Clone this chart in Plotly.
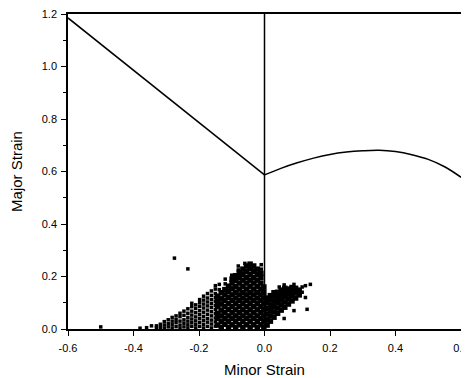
import plotly.graph_objects as go

# Forming limit curve: negative minor strain branch
flc_left_minor = [-0.6, 0.0]
flc_left_major = [1.185, 0.587]

# Forming limit curve: positive minor strain branch
flc_right_minor = [0.0, 0.05, 0.1, 0.15, 0.2, 0.25, 0.3, 0.35, 0.4, 0.45, 0.5, 0.55, 0.6]
flc_right_major = [0.587, 0.612, 0.633, 0.651, 0.665, 0.674, 0.679, 0.681, 0.676, 0.664, 0.646, 0.618, 0.578]

# Plane-strain reference line
plane_minor = [0.0, 0.0]
plane_major = [0.0, 1.2]

dense_columns = [
    (-0.143, [0.015, 0.04, 0.06, 0.085, 0.105, 0.125]),
    (-0.132, [0.005, 0.028, 0.05, 0.072, 0.095, 0.115, 0.138]),
    (-0.121, [0.018, 0.04, 0.062, 0.085, 0.108, 0.13, 0.15]),
    (-0.11, [0.005, 0.028, 0.05, 0.074, 0.097, 0.12, 0.142, 0.163]),
    (-0.099, [0.016, 0.04, 0.062, 0.085, 0.108, 0.13, 0.153, 0.175, 0.19]),
    (-0.088, [0.005, 0.028, 0.05, 0.073, 0.096, 0.118, 0.14, 0.162, 0.185, 0.203]),
    (-0.077, [0.016, 0.04, 0.062, 0.085, 0.108, 0.13, 0.152, 0.175, 0.197, 0.215]),
    (-0.066, [0.005, 0.028, 0.05, 0.073, 0.096, 0.118, 0.14, 0.163, 0.186, 0.208, 0.228]),
    (-0.055, [0.016, 0.04, 0.062, 0.085, 0.108, 0.13, 0.152, 0.175, 0.197, 0.22, 0.24]),
    (-0.044, [0.005, 0.028, 0.05, 0.073, 0.096, 0.118, 0.14, 0.163, 0.186, 0.208, 0.23, 0.247]),
    (-0.033, [0.016, 0.04, 0.062, 0.085, 0.108, 0.13, 0.152, 0.175, 0.197, 0.22, 0.24]),
    (-0.022, [0.005, 0.028, 0.05, 0.073, 0.096, 0.118, 0.14, 0.163, 0.186, 0.208, 0.228]),
    (-0.011, [0.016, 0.04, 0.062, 0.085, 0.108, 0.13, 0.152, 0.175, 0.197, 0.212]),
    (-0.002, [0.005, 0.028, 0.05, 0.073, 0.096, 0.118, 0.14, 0.16]),
    (0.008, [0.015, 0.035, 0.057, 0.078, 0.1, 0.118]),
    (0.018, [0.03, 0.05, 0.07, 0.09, 0.11, 0.127]),
    (0.029, [0.045, 0.065, 0.085, 0.105, 0.125, 0.138]),
    (0.04, [0.06, 0.08, 0.1, 0.12, 0.14]),
    (0.051, [0.072, 0.092, 0.112, 0.132, 0.148]),
    (0.062, [0.083, 0.103, 0.123, 0.143, 0.155]),
    (0.073, [0.095, 0.115, 0.135, 0.152]),
    (0.084, [0.107, 0.127, 0.145, 0.158]),
    (0.095, [0.118, 0.138, 0.155]),
    (0.106, [0.13, 0.148]),
]
# Measured strain points, sparse tail and scattered points
sparse_columns = [
    (-0.5, [0.008]), (-0.38, [0.003]), (-0.36, [0.005]), (-0.345, [0.012]),
    (-0.33, [0.004, 0.012]),
    (-0.318, [0.006, 0.018]),
    (-0.306, [0.003, 0.015, 0.028]),
    (-0.294, [0.008, 0.02, 0.035]),
    (-0.282, [0.004, 0.017, 0.03, 0.044]),
    (-0.275, [0.27]),
    (-0.27, [0.009, 0.024, 0.036, 0.05]),
    (-0.258, [0.003, 0.015, 0.03, 0.047, 0.06]),
    (-0.246, [0.008, 0.022, 0.035, 0.052, 0.068]),
    (-0.234, [0.004, 0.016, 0.03, 0.044, 0.06, 0.077, 0.229]),
    (-0.222, [0.01, 0.024, 0.038, 0.053, 0.068, 0.085, 0.098]),
    (-0.21, [0.004, 0.017, 0.031, 0.046, 0.062, 0.078, 0.092]),
    (-0.198, [0.01, 0.025, 0.04, 0.055, 0.07, 0.086, 0.1, 0.112]),
    (-0.186, [0.004, 0.018, 0.033, 0.048, 0.064, 0.08, 0.095, 0.11, 0.125]),
    (-0.174, [0.01, 0.026, 0.04, 0.056, 0.072, 0.088, 0.103, 0.118, 0.135]),
    (-0.162, [0.004, 0.019, 0.034, 0.05, 0.066, 0.082, 0.097, 0.112, 0.128, 0.145]),
    (-0.15, [0.011, 0.027, 0.042, 0.058, 0.074, 0.09, 0.106, 0.12, 0.135, 0.152, 0.165]),
    (-0.138, [0.15, 0.17]), (-0.12, [0.172, 0.19]), (-0.1, [0.205]),
    (-0.08, [0.225, 0.24]), (-0.06, [0.25]), (-0.01, [0.228, 0.245]),
    (0.045, [0.16]), (0.06, [0.04, 0.168]), (0.09, [0.07, 0.17]),
    (0.115, [0.16, 0.14]), (0.125, [0.12, 0.165]), (0.13, [0.075]), (0.14, [0.17]),
]
dense_minor = [x for x, ys in dense_columns for _ in ys]
dense_major = [y for _, ys in dense_columns for y in ys]
sparse_minor = [x for x, ys in sparse_columns for _ in ys]
sparse_major = [y for _, ys in sparse_columns for y in ys]

fig = go.Figure()
fig.add_trace(go.Scatter(x=sparse_minor, y=sparse_major, mode="markers",
                         marker=dict(color="black", size=3.5, symbol="square", line=dict(width=0)),
                         showlegend=False))
fig.add_trace(go.Scatter(x=dense_minor, y=dense_major, mode="markers",
                         marker=dict(color="black", size=5.5, symbol="square", line=dict(width=0)),
                         showlegend=False))
fig.add_trace(go.Scatter(x=flc_left_minor, y=flc_left_major, mode="lines",
                         line=dict(color="black", width=1.5), showlegend=False))
fig.add_trace(go.Scatter(x=flc_right_minor, y=flc_right_major, mode="lines",
                         line=dict(color="black", width=1.5, shape="spline"), showlegend=False))
fig.add_trace(go.Scatter(x=plane_minor, y=plane_major, mode="lines",
                         line=dict(color="black", width=1.5), showlegend=False))

font_ticks = dict(family="Liberation Sans, Arial", size=11, color="black")
font_title = dict(family="Liberation Sans, Arial", size=15, color="black")
axis_common = dict(showgrid=False, zeroline=False, showline=True, linecolor="black",
                   linewidth=1.5, mirror=True, ticks="outside", ticklen=5, tickwidth=1.2,
                   tickcolor="black", tickfont=font_ticks, automargin=False,
                   ticklabeloverflow="allow")
fig.update_xaxes(range=[-0.6, 0.6], tickvals=[-0.6, -0.4, -0.2, 0.0, 0.2, 0.4, 0.6],
                 ticktext=["-0.6", "-0.4", "-0.2", "0.0", "0.2", "0.4", "0.6"],
                 ticklabelstandoff=3,
                 title=dict(text="Minor Strain", font=font_title, standoff=12),
                 **axis_common)
fig.update_yaxes(range=[0, 1.2], tickvals=[0.0, 0.2, 0.4, 0.6, 0.8, 1.0, 1.2],
                 ticktext=["0.0", "0.2", "0.4", "0.6", "0.8", "1.0", "1.2"],
                 ticklabelstandoff=2,
                 title=dict(text="Major Strain", font=font_title, standoff=17),
                 minor=dict(ticks="outside", ticklen=3, tickcolor="black", dtick=0.1, tick0=0),
                 **axis_common)
# page body adds an 8px offset, so the figure is 461x370 and margins are shifted
fig.update_layout(width=461, height=370, margin=dict(l=60, r=8, t=6, b=49),
                  plot_bgcolor="white", paper_bgcolor="white")
fig.write_html("out.html")
